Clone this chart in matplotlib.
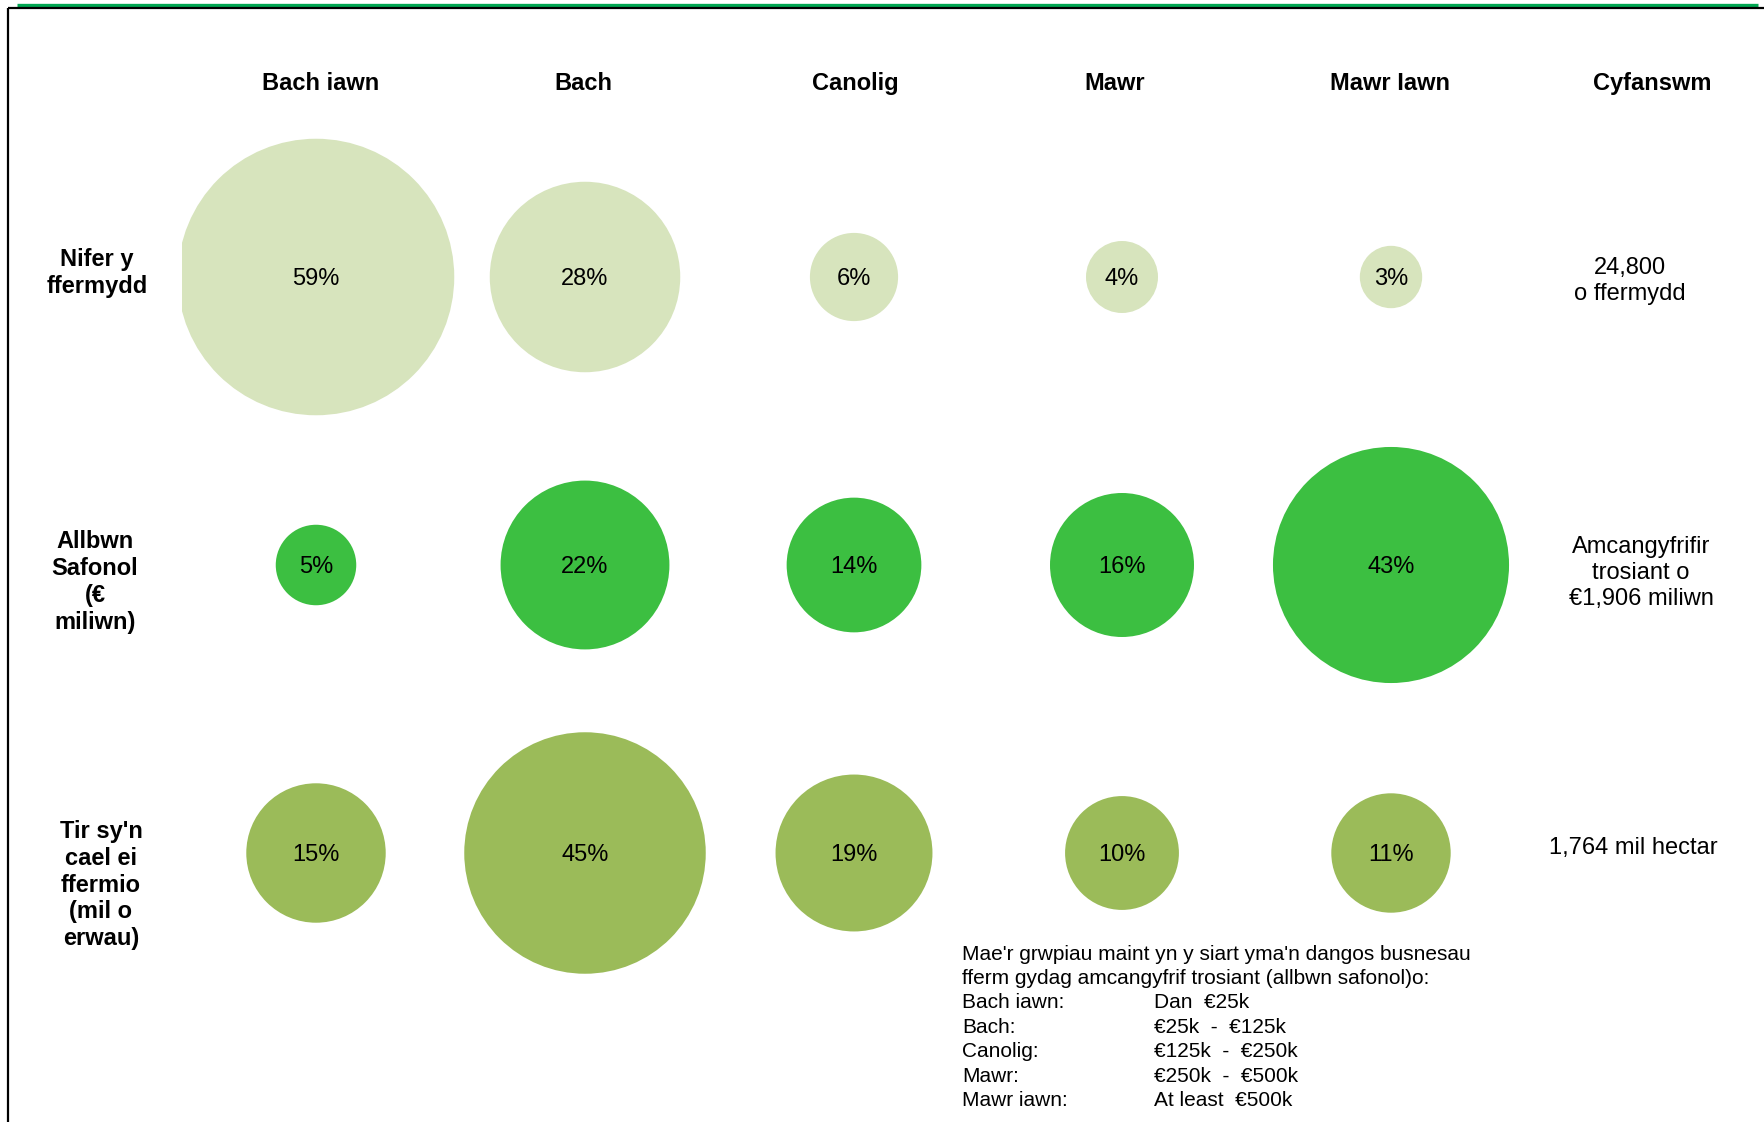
"""Bubble chart of farm size groups (Welsh), rebuilt in matplotlib."""

import matplotlib.pyplot as plt
import numpy as np
from matplotlib.patches import Circle, Rectangle

plt.rcParams["font.family"] = ["Liberation Sans", "DejaVu Sans"]

# data
SIZE_GROUPS = ["Bach iawn", "Bach", "Canolig", "Mawr", "Mawr Iawn"]
TOTAL_HEADER = "Cyfanswm"
ROW_LABELS = [
    "Nifer y\nffermydd",
    "Allbwn\nSafonol\n(€\nmiliwn)",
    "Tir sy'n\ncael ei\nffermio\n(mil o\nerwau)",
]
FARM_SHARE = [59, 28, 6, 4, 3]
OUTPUT_SHARE = [5, 22, 14, 16, 43]
LAND_SHARE = [15, 45, 19, 10, 11]
ROW_TOTALS = [
    "24,800\no ffermydd",
    "Amcangyfrifir\ntrosiant o\n€1,906 miliwn",
    "1,764 mil hectar",
]
NOTE_LINES = [
    "Mae'r grwpiau maint yn y siart yma'n dangos busnesau",
    "fferm gydag amcangyfrif trosiant (allbwn safonol)o:",
]
NOTE_GROUPS = ["Bach iawn:", "Bach:", "Canolig:", "Mawr:", "Mawr iawn:"]
NOTE_RANGES = ["Dan  €25k", "€25k  -  €125k", "€125k  -  €250k",
               "€250k  -  €500k", "At least  €500k"]

# layout (pixel coordinates)
W, H = 1765, 1122
COL_X = [316, 585, 854, 1122, 1391]
HEADER_X = [321, 583, 855, 1115, 1390]
HEADER_Y = 83
TOTAL_HEADER_X = 1652
ROW_Y = [277, 565, 853]
ROW_LABEL_X = [97, 95, 101]
ROW_LABEL_Y = [273, 582, 885]
TOTAL_X = [1630, 1641, 1633]
TOTAL_Y = [281, 573, 848]
ROW_COLORS = ["#D7E4BD", "#3CBF41", "#9BBB59"]
RADIUS_SCALE = 18.0  # px per sqrt(%)
CLIP_LEFT = 182
NOTE_X, NOTE_X2, NOTE_Y0, NOTE_STEP = 962, 1154, 954, 24.4

fig = plt.figure(figsize=(W / 100, H / 100), dpi=100)
ax = fig.add_axes([0, 0, 1, 1])
ax.set_xlim(0, W)
ax.set_ylim(H, 0)
ax.set_aspect("equal")
ax.axis("off")

# frame lines
ax.plot([17, 1758], [5.2, 5.2], color="#00A651", lw=2.4, solid_capstyle="butt")
ax.plot([8.5, W], [8, 8], color="black", lw=1.6, solid_capstyle="butt")
ax.plot([8.5, 8.5], [8, H], color="black", lw=1.6, solid_capstyle="butt")

clip_rect = Rectangle((CLIP_LEFT, 0), W, H, transform=ax.transData,
                      facecolor="none", edgecolor="none")

for row_index, values in enumerate([FARM_SHARE, OUTPUT_SHARE, LAND_SHARE]):
    for x, value in zip(COL_X, values):
        circle = Circle((x, ROW_Y[row_index]), RADIUS_SCALE * np.sqrt(value),
                        facecolor=ROW_COLORS[row_index], edgecolor="none")
        ax.add_patch(circle)
        circle.set_clip_path(clip_rect)
        ax.text(x, ROW_Y[row_index] + 2, f"{value}%", ha="center",
                va="center", fontsize=17, color="black")

for x, label in zip(HEADER_X, SIZE_GROUPS):
    ax.text(x, HEADER_Y, label, ha="center", va="center", fontsize=17,
            fontweight="bold")
ax.text(TOTAL_HEADER_X, HEADER_Y, TOTAL_HEADER, ha="center", va="center",
        fontsize=17, fontweight="bold")

for x, y, label in zip(ROW_LABEL_X, ROW_LABEL_Y, ROW_LABELS):
    ax.text(x, y, label, ha="center", va="center", fontsize=17,
            fontweight="bold", linespacing=1.22)

for x, y, label in zip(TOTAL_X, TOTAL_Y, ROW_TOTALS):
    ax.text(x, y, label, ha="center", va="center", fontsize=17,
            linespacing=1.22, multialignment="center")

for i, line in enumerate(NOTE_LINES):
    ax.text(NOTE_X, NOTE_Y0 + i * NOTE_STEP, line, ha="left", va="center",
            fontsize=15)
for i, (group, price) in enumerate(zip(NOTE_GROUPS, NOTE_RANGES)):
    y = NOTE_Y0 + (i + len(NOTE_LINES)) * NOTE_STEP
    ax.text(NOTE_X, y, group, ha="left", va="center", fontsize=15)
    ax.text(NOTE_X2, y, price, ha="left", va="center", fontsize=15)

fig.savefig("out.png", dpi=100)
